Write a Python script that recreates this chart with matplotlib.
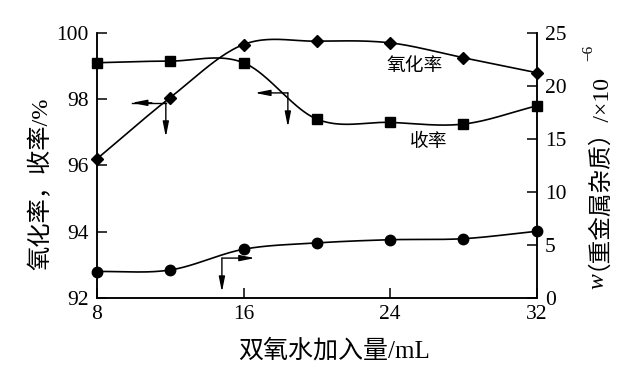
import numpy as np
import matplotlib
matplotlib.use('Agg')
import matplotlib.pyplot as plt

# ---- data ----
x_ml = [8, 12, 16, 20, 24, 28, 32]
oxidation_rate = [96.2, 98.05, 99.65, 99.75, 99.7, 99.25, 98.8]
yield_rate = [99.1, 99.15, 99.1, 97.4, 97.3, 97.25, 97.8]
impurity = [2.5, 2.65, 4.6, 5.2, 5.5, 5.6, 6.3]
x_ticks = [8, 16, 24, 32]
left_ticks = [92, 94, 96, 98, 100]
right_ticks = [0, 5, 10, 15, 20, 25]

FAM = ['Liberation Serif', 'Noto Sans CJK SC']
plt.rcParams['font.family'] = FAM
plt.rcParams['mathtext.fontset'] = 'stix'

W, H = 642, 374


def smooth(x, y, n=40):
    """Cubic Hermite curve through the given points (for drawing only)."""
    x = np.asarray(x, float)
    y = np.asarray(y, float)
    m = np.empty_like(y)
    m[1:-1] = (y[2:] - y[:-2]) / (x[2:] - x[:-2])
    m[0] = (y[1] - y[0]) / (x[1] - x[0])
    m[-1] = (y[-1] - y[-2]) / (x[-1] - x[-2])
    xs, ys = [], []
    for i in range(len(x) - 1):
        h = x[i + 1] - x[i]
        t = np.linspace(0, 1, n, endpoint=(i == len(x) - 2))
        h00 = 2 * t**3 - 3 * t**2 + 1
        h10 = t**3 - 2 * t**2 + t
        h01 = -2 * t**3 + 3 * t**2
        h11 = t**3 - t**2
        xs.append(x[i] + t * h)
        ys.append(h00 * y[i] + h10 * h * m[i] + h01 * y[i + 1] + h11 * h * m[i + 1])
    return np.concatenate(xs), np.concatenate(ys)


fig = plt.figure(figsize=(W / 100, H / 100), dpi=100)
ax = fig.add_axes([0.151, 0.203, 0.685, 0.709])
ax2 = ax.twinx()

lw = 1.2
# left axis series
sx, sy = smooth(x_ml, oxidation_rate)
ax.plot(sx, sy, color='black', lw=lw)
ax.plot(x_ml, oxidation_rate, 'D', color='black', ms=6, clip_on=False)
sx, sy = smooth(x_ml, yield_rate)
ax.plot(sx, sy, color='black', lw=lw)
ax.plot(x_ml, yield_rate, 's', color='black', ms=7.5, clip_on=False)

# right axis series
sx, sy = smooth(x_ml, impurity)
ax2.plot(sx, sy, color='black', lw=lw)
ax2.plot(x_ml, impurity, 'o', color='black', ms=7.5, clip_on=False)

ax.set_xlim(8, 32)
ax.set_ylim(92, 100)
ax2.set_ylim(0, 25)
ax.set_xticks(x_ticks)
ax.set_yticks(left_ticks)
ax2.set_yticks(right_ticks)

for a in (ax, ax2):
    a.spines['top'].set_visible(False)
    a.tick_params(direction='in', length=7, width=1.1, labelsize=15.5, colors='black')
    for s in a.spines.values():
        s.set_linewidth(1.1)
ax.tick_params(axis='y', pad=6)
ax.tick_params(axis='x', pad=5)
ax2.tick_params(axis='y', pad=6)

# arrows
ap = dict(arrowstyle='-|>,head_length=0.9,head_width=0.18', color='black', lw=1.0,
          shrinkA=0, shrinkB=0)
# oxidation -> left axis
ax.plot([9.9, 11.76], [97.89, 97.89], color='black', lw=1.0)
ax.annotate('', xy=(9.9, 97.89), xytext=(11.0, 97.89), arrowprops=ap)
ax.annotate('', xy=(11.76, 96.86), xytext=(11.76, 97.89), arrowprops=ap)
# yield -> left axis
ax.annotate('', xy=(16.62, 98.19), xytext=(18.42, 98.19), arrowprops=ap)
ax.annotate('', xy=(18.42, 97.16), xytext=(18.42, 98.19), arrowprops=ap)
# impurity -> right axis
ax2.annotate('', xy=(16.62, 3.77), xytext=(14.82, 3.77), arrowprops=ap)
ax2.annotate('', xy=(14.82, 0.57), xytext=(14.82, 3.77), arrowprops=ap)

# curve labels
ax.text(25.35, 99.0, '氧化率', ha='center', va='center', fontsize=13.5)
ax.text(26.1, 96.7, '收率', ha='center', va='center', fontsize=13.5)

# axis titles
fig.text(41 / W, 1 - 184 / H, '氧化率，收率/%', rotation=90, ha='center', va='center',
         fontsize=17.5)
fig.text(334 / W, 1 - 351 / H, '双氧水加入量/mL', ha='center', va='center', fontsize=18)

# right axis title, composed from pieces (rotated, reading bottom to top)
renderer = fig.canvas.get_renderer()
fs = 17
y_pix = 289.0           # bottom of label, pixels from top
pieces = [
    ('w', dict(family='Liberation Serif', style='italic', fontsize=fs), 598.0, 3.0),
    ('（重金属杂质）/×10', dict(family=FAM, fontsize=fs), 586.0, 0.0),
    ('−6', dict(family='Liberation Serif', fontsize=11), 589.0, 0.0),
]
for txt, kw, xc, gap in pieces:
    t = fig.text(xc / W, 1 - y_pix / H, txt, rotation=90, ha='center', va='bottom', **kw)
    bb = t.get_window_extent(renderer=renderer)
    y_pix -= bb.height + gap

fig.savefig('out.png', dpi=100)
